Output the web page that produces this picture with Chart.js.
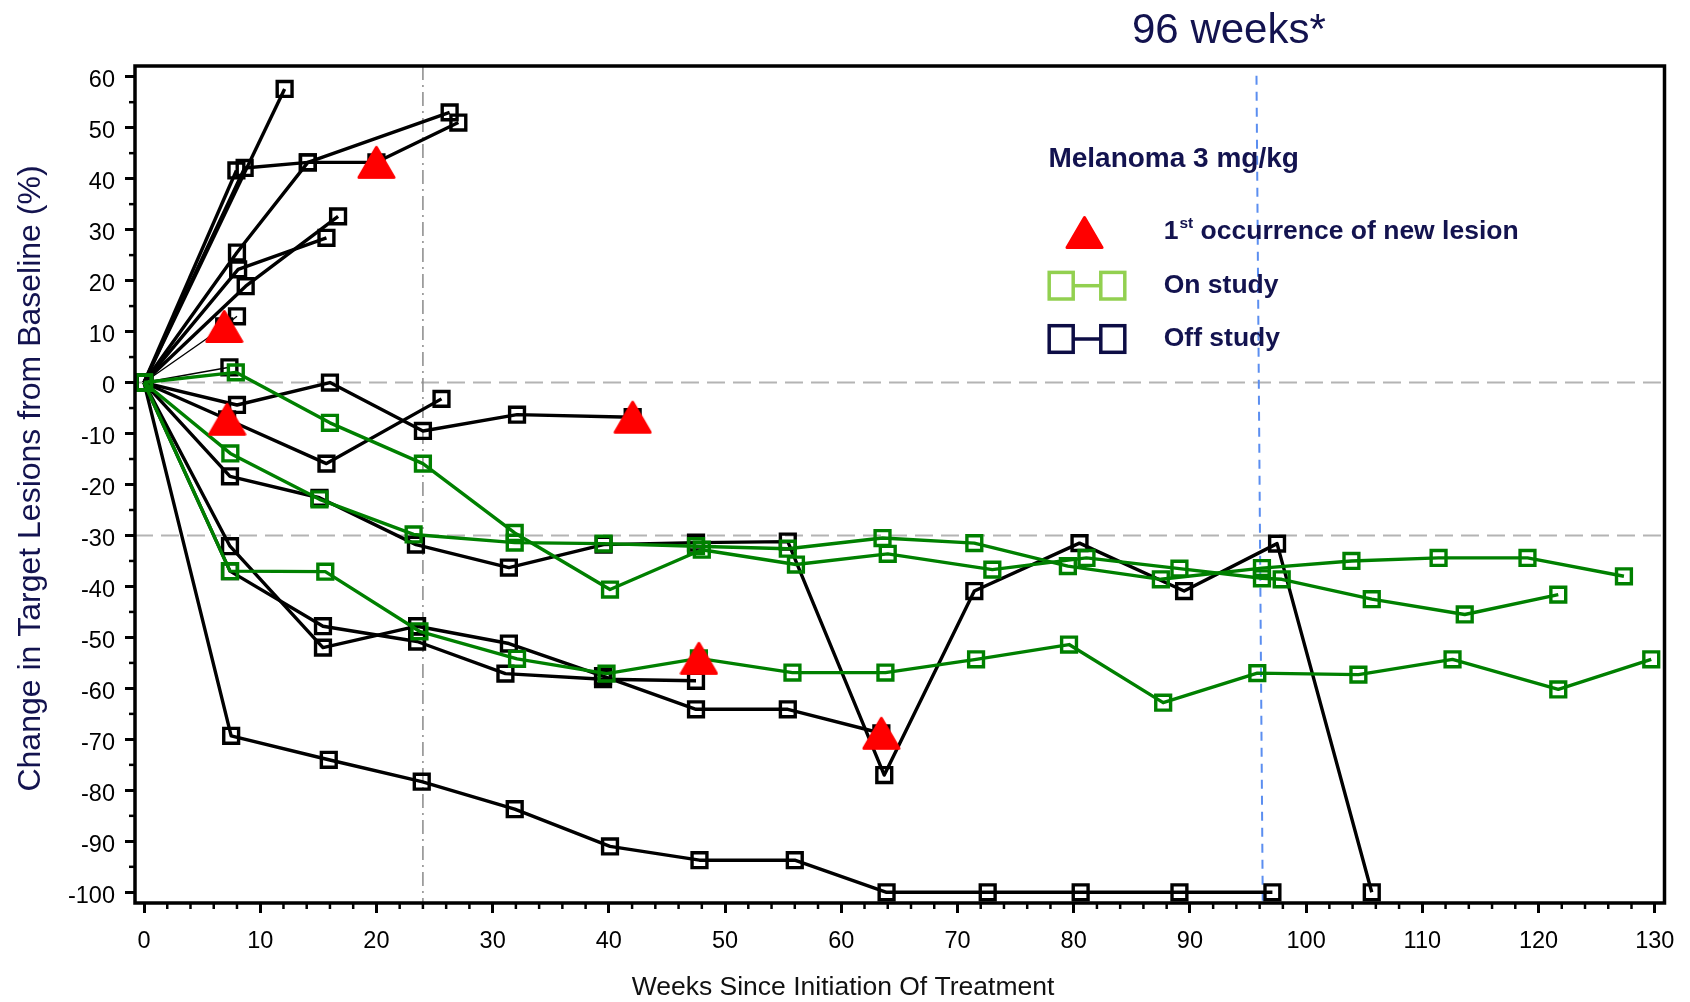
<!DOCTYPE html>
<html>
<head>
<meta charset="utf-8">
<title>Melanoma 3 mg/kg</title>
<script src="https://cdn.jsdelivr.net/npm/chart.js@4/dist/chart.umd.min.js"></script>
<style>
  html, body { margin: 0; padding: 0; background: #fff; }
  #marco { width: 1690px; height: 1002px; }
</style>
</head>
<body>
<div id="marco"><canvas id="graficoPrincipal" width="1690" height="1002"></canvas></div>
<script>
// [week, % change] pairs
// on study (green)
const onStudy1 = [[0,0],[7.9,2.0],[16.0,-7.9],[24.0,-15.9],[31.9,-29.5],[40.1,-40.6],[48.0,-32.8],[56.1,-35.7],[64.0,-33.6],[73.0,-36.7],[81.1,-34.4],[89.1,-36.5],[96.2,-38.4],[97.9,-38.6],[105.65,-42.5],[113.65,-45.5],[121.7,-41.6]]
const onStudy2 = [[0,0],[7.43,-13.9],[15.1,-22.9],[23.2,-29.8],[31.9,-31.4],[39.55,-31.6],[47.5,-32.1],[55.4,-32.6],[63.55,-30.5],[71.45,-31.5],[79.5,-36.0],[87.5,-38.6],[96.2,-36.4],[103.9,-35.0],[111.4,-34.4],[119.05,-34.4],[127.35,-38.0]]
const onStudy3 = [[0,0],[7.4,-37.0],[15.6,-37.1],[23.7,-48.8],[32.1,-54.2],[39.8,-57.1],[47.75,-54.1],[55.8,-56.9],[63.8,-56.9],[71.6,-54.3],[79.6,-51.4],[87.7,-62.8],[95.8,-57.0],[104.5,-57.3],[112.6,-54.3],[121.7,-60.2],[129.7,-54.3]]

// off study (black)
const offStudy1 = [[0,0],[12.1,57.6]]
const offStudy2 = [[0,0],[7.95,41.6]]
const offStudy3 = [[0,0],[8.66,42.1],[14.1,43.2],[20.0,43.2],[27.05,51.0]]
const offStudy4 = [[0,0],[8.0,25.5],[14.1,43.2],[26.3,53.0]]
const offStudy5 = [[0,0],[8.1,22.2],[15.7,28.4]]
const offStudy6 = [[0,0],[8.75,18.9],[16.7,32.6]]
const offStudy7 = [[0,0],[6.9,11.0],[8.0,13.0]]
const offStudy8 = [[0,0],[7.35,3.0]]
const offStudy9 = [[0,0],[8.0,-4.4],[16.0,0],[24.0,-9.5],[32.1,-6.3],[42.05,-6.8]]
const offStudy10 = [[0,0],[7.15,-7.2],[15.7,-15.9],[25.6,-3.2]]
const offStudy11 = [[0,0],[7.4,-18.4],[15.1,-22.6],[23.4,-31.8],[31.4,-36.3],[39.55,-31.8],[47.5,-31.4],[55.4,-31.2],[63.7,-77.0],[71.45,-40.9],[80.5,-31.5],[89.5,-40.9],[97.5,-31.6],[105.65,-100]]
const offStudy12 = [[0,0],[7.4,-32.1],[15.4,-52.0],[23.5,-47.8],[31.4,-51.2],[39.5,-57.6],[47.5,-64.1],[55.4,-64.1],[63.45,-68.8]]
const offStudy13 = [[0,0],[7.4,-37.0],[15.4,-47.8],[23.5,-50.8],[31.1,-57.1],[39.5,-58.2],[47.5,-58.5]]
const offStudy14 = [[0,0],[7.5,-69.3],[15.9,-74.0],[23.9,-78.3],[31.9,-83.7],[40.1,-91.0],[47.8,-93.7],[56.0,-93.7],[63.9,-100],[72.6,-100],[80.6,-100],[89.1,-100],[97.1,-100]]

// 1st occurrence of new lesion
const newLesion = [[20.0,43.2],[6.9,11.0],[7.15,-7.2],[42.05,-6.8],[47.75,-54.1],[63.45,-68.8]]

// axes
const xTicks = [0,10,20,30,40,50,60,70,80,90,100,110,120,130]
const yTicks = [60,50,40,30,20,10,0,-10,-20,-30,-40,-50,-60,-70,-80,-90,-100]
const xMinorStep = 2
const yMinorStep = 5
const xRange = [-0.775, 130.84]
const yRange = [-102.1, 62.1]

// reference lines
const refLinesY = [0, -30]
const refWeek = 24
const blueWeek = [95.73, 96.27]   // top, bottom (line is slightly slanted)
const blueTop = 60.2

const azul = '#13134f'
const verde = '#008000'
const negro = '#000000'
const fuente = '"Liberation Sans", Arial, Helvetica, sans-serif'

const trianguloImg = (() => {
    const c = document.createElement('canvas')
    c.width = 39; c.height = 35
    const g = c.getContext('2d')
    g.fillStyle = '#ff0000'; g.strokeStyle = '#ff0000'
    g.lineWidth = 3; g.lineJoin = 'round'
    g.beginPath(); g.moveTo(19.5, 2.5); g.lineTo(37, 32.5); g.lineTo(2, 32.5); g.closePath()
    g.fill(); g.stroke()
    return c
})()

const serie = (puntos, color, ancho) => ({
    data: puntos.map(p => ({ x: p[0], y: p[1] })),
    showLine: true,
    borderColor: color,
    borderWidth: ancho || 3.4,
    borderJoinStyle: 'round',
    pointStyle: 'rect',
    pointRadius: 10.5,
    pointBorderWidth: 3.4,
    pointBorderColor: color,
    pointBackgroundColor: 'rgba(0,0,0,0)'
})

const decorado = {
    id: 'decorado',
    beforeDatasetsDraw(chart) {
        const { ctx, chartArea: a, scales: { x, y } } = chart
        ctx.save()
        ctx.strokeStyle = '#b4b4b4'; ctx.lineWidth = 2; ctx.setLineDash([18, 8])
        refLinesY.forEach(v => {
            const py = y.getPixelForValue(v)
            ctx.beginPath(); ctx.moveTo(a.left, py); ctx.lineTo(a.right, py); ctx.stroke()
        })
        ctx.strokeStyle = '#8a8a8a'; ctx.lineWidth = 1.5; ctx.setLineDash([14, 5, 2, 5])
        const px = x.getPixelForValue(refWeek)
        ctx.beginPath(); ctx.moveTo(px, a.top); ctx.lineTo(px, a.bottom); ctx.stroke()
        ctx.strokeStyle = '#5b8ef0'; ctx.lineWidth = 2; ctx.setLineDash([9, 7])
        ctx.beginPath()
        ctx.moveTo(x.getPixelForValue(blueWeek[0]), y.getPixelForValue(blueTop))
        ctx.lineTo(x.getPixelForValue(blueWeek[1]), a.bottom)
        ctx.stroke()
        ctx.restore()
    },
    afterDraw(chart) {
        const { ctx, chartArea: a, scales: { x, y } } = chart
        ctx.save()
        // frame
        ctx.strokeStyle = '#000'; ctx.lineWidth = 3.5
        ctx.strokeRect(a.left, a.top, a.right - a.left, a.bottom - a.top)
        // minor ticks
        ctx.lineWidth = 2.5
        for (let w = xTicks[0]; w <= xTicks[xTicks.length - 1]; w += xMinorStep) {
            if (xTicks.includes(w)) continue
            const px = x.getPixelForValue(w)
            ctx.beginPath(); ctx.moveTo(px, a.bottom); ctx.lineTo(px, a.bottom + 6); ctx.stroke()
        }
        for (let v = yTicks[yTicks.length - 1]; v <= yTicks[0]; v += yMinorStep) {
            if (yTicks.includes(v)) continue
            const py = y.getPixelForValue(v)
            ctx.beginPath(); ctx.moveTo(a.left - 6, py); ctx.lineTo(a.left, py); ctx.stroke()
        }
        // axis titles
        ctx.fillStyle = '#111'
        ctx.font = '26.5px ' + fuente
        ctx.textAlign = 'center'; ctx.textBaseline = 'alphabetic'
        ctx.fillText('Weeks Since Initiation Of Treatment', 843, 995)
        ctx.save()
        ctx.translate(39.5, 478.5); ctx.rotate(-Math.PI / 2)
        ctx.fillStyle = azul; ctx.font = '32px ' + fuente
        ctx.fillText('Change in Target Lesions from Baseline (%)', 0, 0)
        ctx.restore()
        // header
        ctx.fillStyle = azul; ctx.textAlign = 'left'
        ctx.font = '42px ' + fuente
        ctx.fillText('96 weeks*', 1132, 43.3)
        // legend
        ctx.font = 'bold 28px ' + fuente
        ctx.fillText('Melanoma 3 mg/kg', 1048.4, 166.5)
        ctx.drawImage(trianguloImg, 1084.5 - 19.5, 232.5 - 17.5)
        ctx.font = 'bold 26.5px ' + fuente
        let tx = 1163.7
        ctx.fillText('1', tx, 239.3); tx += ctx.measureText('1').width
        ctx.font = 'bold 15.5px ' + fuente
        ctx.fillText('st', tx + 1, 228); tx += ctx.measureText('st').width + 1
        ctx.font = 'bold 26.5px ' + fuente
        ctx.fillText(' occurrence of new lesion', tx, 239.3)
        ctx.fillText('On study', 1163.7, 292.5)
        ctx.fillText('Off study', 1163.7, 345.5)
        const simbolo = (color, cy) => {
            ctx.strokeStyle = color; ctx.lineWidth = 3.5
            ctx.strokeRect(1049.2, cy - 13.3, 24, 26.6)
            ctx.strokeRect(1100.8, cy - 13.3, 24, 26.6)
            ctx.beginPath(); ctx.moveTo(1073.2, cy); ctx.lineTo(1100.8, cy); ctx.stroke()
        }
        simbolo('#92d050', 285.7)
        simbolo('#0d0d45', 339)
        ctx.restore()
    }
}

const datasets = [
    {
        data: newLesion.map(p => ({ x: p[0], y: p[1] })),
        showLine: false,
        pointStyle: trianguloImg,
        pointRadius: 17
    },
    serie(onStudy1, verde), serie(onStudy2, verde), serie(onStudy3, verde),
    serie(offStudy1, negro), serie(offStudy2, negro), serie(offStudy3, negro),
    serie(offStudy4, negro), serie(offStudy5, negro), serie(offStudy6, negro),
    serie(offStudy7, negro, 1.4), serie(offStudy8, negro, 1.4), serie(offStudy9, negro),
    serie(offStudy10, negro), serie(offStudy11, negro), serie(offStudy12, negro),
    serie(offStudy13, negro), serie(offStudy14, negro)
]

new Chart(document.getElementById('graficoPrincipal'), {
    type: 'scatter',
    data: { datasets },
    plugins: [decorado],
    options: {
        responsive: false,
        devicePixelRatio: 1,
        animation: false,
        events: [],
        layout: { padding: { top: 66, right: 25.5, left: 0, bottom: 0 } },
        plugins: { legend: { display: false }, tooltip: { enabled: false } },
        scales: {
            x: {
                type: 'linear', min: xRange[0], max: xRange[1],
                afterBuildTicks: s => { s.ticks = xTicks.map(v => ({ value: v })) },
                afterFit: s => { s.height = 99 },
                ticks: { color: '#000', font: { size: 23.5, family: fuente }, padding: 14, maxRotation: 0, autoSkip: false, callback: v => String(v) },
                grid: { drawOnChartArea: false, drawTicks: true, tickLength: 10, tickWidth: 3, tickColor: '#000' },
                border: { display: false }
            },
            y: {
                type: 'linear', min: yRange[0], max: yRange[1],
                afterBuildTicks: s => { s.ticks = yTicks.map(v => ({ value: v })) },
                afterFit: s => { s.width = 135 },
                ticks: { color: '#000', font: { size: 23.5, family: fuente }, padding: 10, labelOffset: 4, autoSkip: false, callback: v => String(v) },
                grid: { drawOnChartArea: false, drawTicks: true, tickLength: 10, tickWidth: 3, tickColor: '#000' },
                border: { display: false }
            }
        }
    }
})
</script>
</body>
</html>
